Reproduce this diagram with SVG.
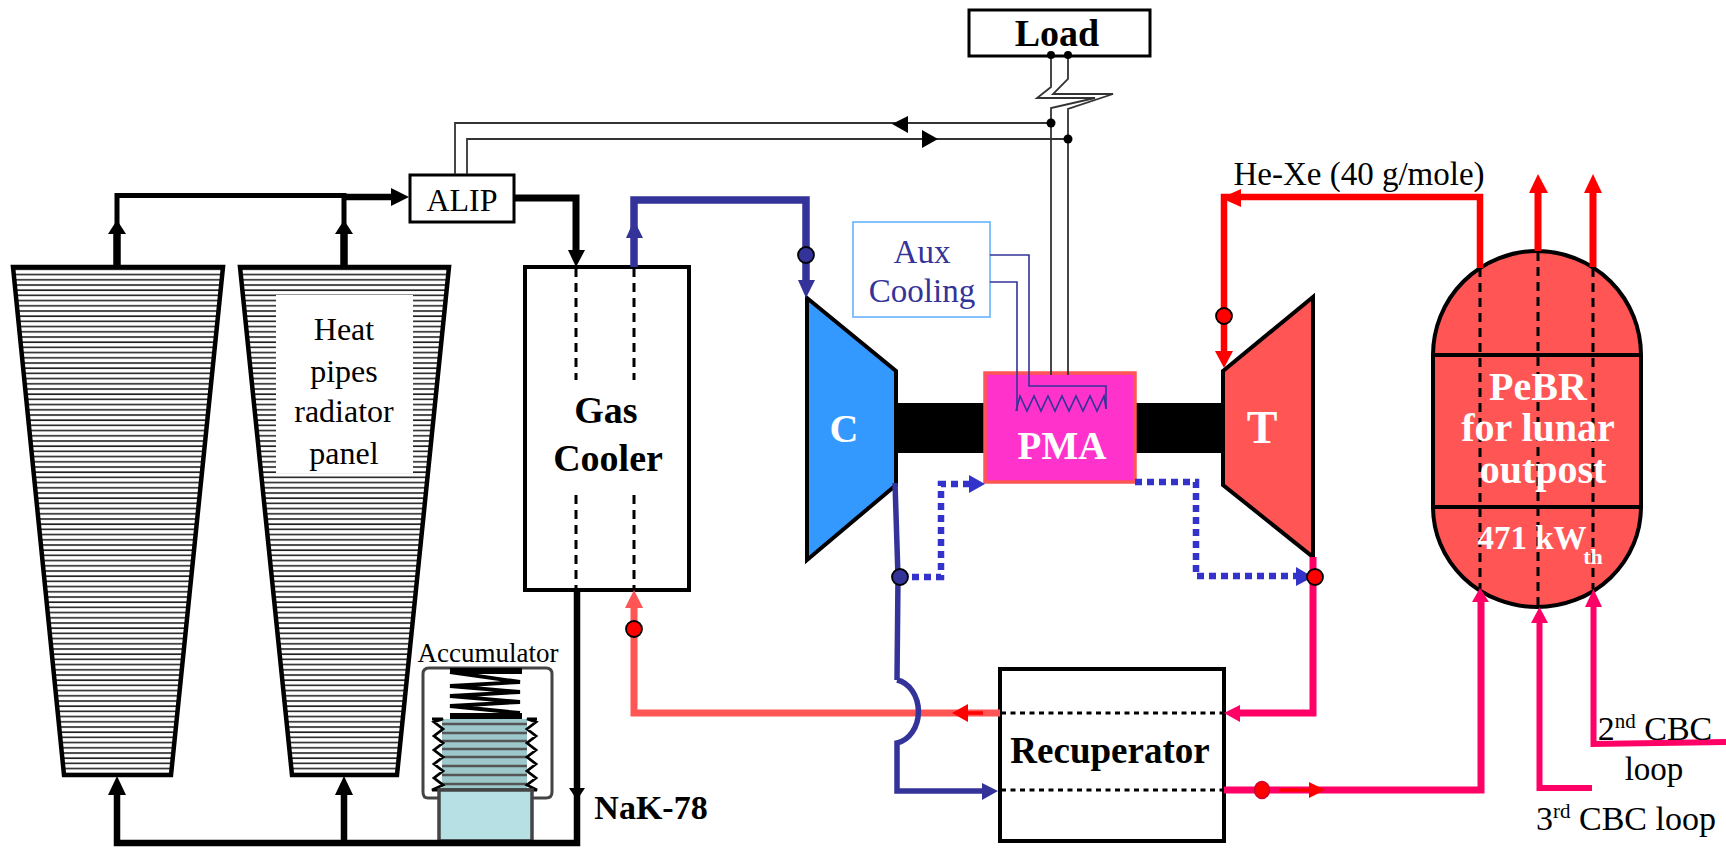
<svg xmlns="http://www.w3.org/2000/svg" width="1726" height="848" viewBox="0 0 1726 848">
<style>
text{font-family:"Liberation Serif","Times New Roman",serif;text-anchor:middle;fill:#000}
.b{font-weight:700}
.w{fill:#fff;font-weight:700}
.box{fill:#fff;stroke:#000;stroke-width:4}
.thin{fill:#fff;stroke:#000;stroke-width:3}
.rad{fill:url(#hatch);stroke:#000;stroke-width:4.5}
.dash{fill:none;stroke:#000;stroke-width:3;stroke-dasharray:9 6}
.dot{fill:none;stroke:#000;stroke-width:3;stroke-dasharray:5 4.5}
.p{fill:none;stroke-linejoin:miter}
.k{stroke:#000}.kf{fill:#000}
.n{stroke:#333399}.nf{fill:#333399}
.r{stroke:#f00}.rf{fill:#f00}
.m{stroke:#f06}.mf{fill:#f06}
.s{stroke:#f55}.sf{fill:#f55}
.d{fill:none;stroke:#3333cc;stroke-width:6.5;stroke-dasharray:7 5}
.wire{fill:none;stroke:#333;stroke-width:1.8}
.aux{fill:none;stroke:#333399;stroke-width:1.6}
.c{stroke:#000;stroke-width:1.8}
</style>
<defs>
<pattern id="hatch" patternUnits="userSpaceOnUse" width="20" height="5.2" y="271">
<rect width="20" height="5.2" fill="#fff"/>
<rect y="2.800" width="20" height="1.600" fill="#222"/>
</pattern>
</defs>
<rect width="1726" height="848" fill="#fff"/>

<g id="radiator-1"><polygon class="rad" points="13,267 223,267 171,775 64,775"/></g>
<g id="radiator-2">
<polygon class="rad" points="240,267 449,267 397,775 292,775"/>
<rect x="276" y="295" width="137" height="178" fill="#fff"/>
<text x="344" y="340" font-size="32">Heat</text>
<text x="344" y="382" font-size="32">pipes</text>
<text x="344" y="422" font-size="32">radiator</text>
<text x="344" y="464" font-size="32">panel</text>
</g>
<g id="alip"><rect class="thin" x="410" y="175" width="104" height="47"/><text x="462" y="211" font-size="32">ALIP</text></g>
<g id="gas-cooler">
<rect class="box" x="525" y="267" width="164" height="323"/>
<path class="dash" d="M576,268V380M634,268V380M576,495V590M634,495V590"/>
<text class="b" x="606" y="423" font-size="38">Gas</text>
<text class="b" x="608" y="471" font-size="38">Cooler</text>
</g>
<g id="accumulator">
<text x="488" y="662" font-size="27">Accumulator</text>
<path d="M438,798H428Q423,798 423,792V674Q423,668 429,668H546Q552,668 552,674V792Q552,798 546,798H532" fill="none" stroke="#444" stroke-width="3"/>
<rect x="450" y="668" width="72" height="6" fill="#000"/>
<polyline points="450,672 520,682 450,686 520,692 450,696 520,702 450,706 520,713" fill="none" stroke="#000" stroke-width="3.800"/>
<rect x="450" y="713" width="72" height="6" fill="#000"/>
<rect x="442" y="719" width="85" height="71" fill="#9cc8cc"/>
<path d="M442,724H527M442,733H527M442,741H527M442,749H527M442,757H527M442,766H527M442,775H527M442,784H527" stroke="#555" stroke-width="2.500"/>
<path d="M432,719H443L434,722 443,729 434,736 443,743 434,750 443,757 434,764 443,771 434,778 443,785 432,790H537L527,785 536,778 527,771 536,764 527,757 536,750 527,743 536,736 527,729 536,722 527,719H537" fill="none" stroke="#000" stroke-width="2.800"/>
<rect x="439" y="790" width="93" height="51" fill="#b7e0e4" stroke="#444" stroke-width="3.500"/>
</g>
<g id="shaft"><rect x="896" y="403" width="327" height="50" fill="#000"/></g>
<g id="compressor">
<polygon points="807,298 896,371 896,485 807,560" fill="#39f" stroke="#000" stroke-width="4"/>
<text class="w" x="844" y="442" font-size="40">C</text>
</g>
<g id="pma">
<rect x="985" y="373" width="150" height="109" fill="#f3c" stroke="#f55" stroke-width="3.500"/>
<text class="w" x="1062" y="459" font-size="39">PMA</text>
</g>
<g id="turbine">
<polygon points="1223,371 1313,297 1313,557 1223,485" fill="#f55" stroke="#000" stroke-width="4"/>
<text class="w" x="1262" y="443" font-size="46">T</text>
</g>
<g id="load"><rect class="thin" x="969" y="10" width="181" height="46"/><text class="b" x="1057" y="46" font-size="38">Load</text></g>
<g id="aux-cooling">
<rect x="853" y="222" width="137" height="95" fill="#fff" stroke="#66b2ff" stroke-width="1.600"/>
<text x="922" y="263" font-size="33" style="fill:#333399">Aux</text>
<text x="922" y="302" font-size="33" style="fill:#333399">Cooling</text>
</g>
<g id="recuperator">
<rect class="box" x="1000" y="669" width="224" height="172"/>
<path class="dot" d="M1001,713H1224M1001,790H1224"/>
<text class="b" x="1110" y="763" font-size="37">Recuperator</text>
</g>
<g id="reactor">
<path d="M1433,355A104,104 0 0 1 1641,355V507A104,100 0 0 1 1433,507Z" fill="#f55" stroke="#000" stroke-width="4"/>
<path d="M1433,355H1641M1433,507H1641" stroke="#000" stroke-width="4"/>
<path class="dash" d="M1480,268V589M1538,252V607M1593,268V589"/>
<text class="w" x="1538" y="400" font-size="40">PeBR</text>
<text class="w" x="1538" y="441" font-size="40">for lunar</text>
<text class="w" x="1543" y="483" font-size="40">outpost</text>
<text class="w" x="1532" y="549" font-size="33">471 kW</text>
<text class="w" x="1593" y="564" font-size="22">th</text>
</g>

<g id="connectors">
<g class="k p">
<path stroke-width="5" fill="none" d="M117,234V195.500H344V234"/>
<path stroke-width="7.500" fill="none" d="M117,267V232M344,267V232"/>
<path stroke-width="6.500" fill="none" d="M344,197H391"/>
<path stroke-width="7" fill="none" d="M515,198H576V252"/>
<path stroke-width="6.500" fill="none" d="M577,590V843H117V795M344,843V795"/>
</g>
<polygon class="kf" points="391,188 409,197 391,206"/>
<polygon class="kf" points="117,220 126,234 108,234"/>
<polygon class="kf" points="344,220 353,234 335,234"/>
<polygon class="kf" points="568,250 585,250 576,267"/>
<polygon class="kf" points="569,788 585,788 577,800"/>
<polygon class="kf" points="117,776 126,795 108,795"/>
<polygon class="kf" points="344,776 353,795 335,795"/>

<path class="p n" stroke-width="7.500" d="M634,267V200H806V282"/>
<polygon class="nf" points="634,220 643,238 626,238"/>
<polygon class="nf" points="798,280 815,280 806,298"/>
<path class="p n" stroke-width="5.500" d="M895,483L898,577 897,680"/>
<path class="p s" stroke-width="7" d="M1000,713H634V608"/>
<path class="p n" stroke-width="5.500" d="M897,680A26,32 0 0 1 897,743V791H982"/>
<polygon class="sf" points="634,590 643,608 625,608"/>
<polygon class="nf" points="982,783 998,791 982,800"/>
<path class="p r" stroke-width="3.500" d="M968,713H983"/>
<polygon class="rf" points="952,713 968,704 968,722"/>

<path class="d" d="M900,577H941V484H969"/>
<polygon points="969,475 985,484 969,493" fill="#3333cc"/>
<path class="d" d="M1135,482H1196V576H1296"/>
<polygon points="1296,567 1313,577 1296,586" fill="#3333cc"/>

<path class="p m" stroke-width="7" d="M1313,557V713H1240"/>
<polygon class="mf" points="1224,713 1240,705 1240,722"/>
<path class="p m" stroke-width="7" d="M1224,790H1481V600"/>
<polygon class="mf" points="1480,588 1489,602 1472,602"/>
<path class="p m" stroke-width="6" d="M1592,788H1539.500V623"/>
<polygon class="mf" points="1539.500,607 1548,623 1531,623"/>
<path class="p m" stroke-width="6" d="M1726,742L1593.500,744V606"/>
<polygon class="mf" points="1593.500,589 1602,607 1585,607"/>
<path class="p r" stroke-width="3.500" d="M1279,790H1309"/>
<polygon class="rf" points="1309,782 1325,790 1309,798"/>

<path class="p r" stroke-width="6.500" d="M1480,268V197H1224V352"/>
<polygon class="rf" points="1221,198 1241,189 1241,207"/>
<polygon class="rf" points="1215,351 1233,351 1224,368"/>
<path class="p r" stroke-width="7" d="M1538,251V192M1593,267V192"/>
<polygon class="rf" points="1538,174 1548,193 1529,193"/>
<polygon class="rf" points="1593,174 1602,193 1584,193"/>

<path class="wire" d="M1051,55V87L1037,98H1095L1051,108V375M1068,55V79L1053,94H1113L1068,109V375"/>
<path class="wire" d="M1051,123H455V174M1068,139H467V174"/>
<polygon class="kf" points="908,116 908,133 892,124"/>
<polygon class="kf" points="922,130 938,139 922,148"/>
<path class="aux" d="M990,255H1029V386H1106V409M990,282H1017V411"/>
<polyline class="aux" points="1016,411 1020,396 1027,411 1034,396 1041,411 1048,396 1055,411 1062,396 1069,411 1076,396 1083,411 1090,396 1097,411 1104,396 1106,409"/>

<circle class="kf" cx="1051" cy="55" r="4"/><circle class="kf" cx="1068" cy="55" r="4"/>
<circle class="kf" cx="1051" cy="123" r="4.500"/><circle class="kf" cx="1068" cy="139" r="4.500"/>
<circle class="nf c" cx="806" cy="255" r="8"/>
<circle class="nf c" cx="900" cy="577" r="8"/>
<circle class="rf c" cx="634" cy="629" r="8"/>
<circle class="rf c" cx="1224" cy="316" r="8"/>
<circle class="rf c" cx="1315" cy="577" r="8"/>
<ellipse cx="1262" cy="790" rx="7.500" ry="8.500" fill="#f00" stroke="#c03" stroke-width="1.500"/>
</g>

<g id="labels">
<text class="b" x="651" y="819" font-size="34">NaK-78</text>
<text x="1359" y="185" font-size="33">He-Xe (40 g/mole)</text>
<text x="1655" y="740" font-size="34">2<tspan font-size="21" dy="-12">nd</tspan><tspan dy="12"> CBC</tspan></text>
<text x="1654" y="780" font-size="33">loop</text>
<text x="1626" y="830" font-size="34">3<tspan font-size="21" dy="-12">rd</tspan><tspan dy="12"> CBC loop</tspan></text>
</g>
</svg>
